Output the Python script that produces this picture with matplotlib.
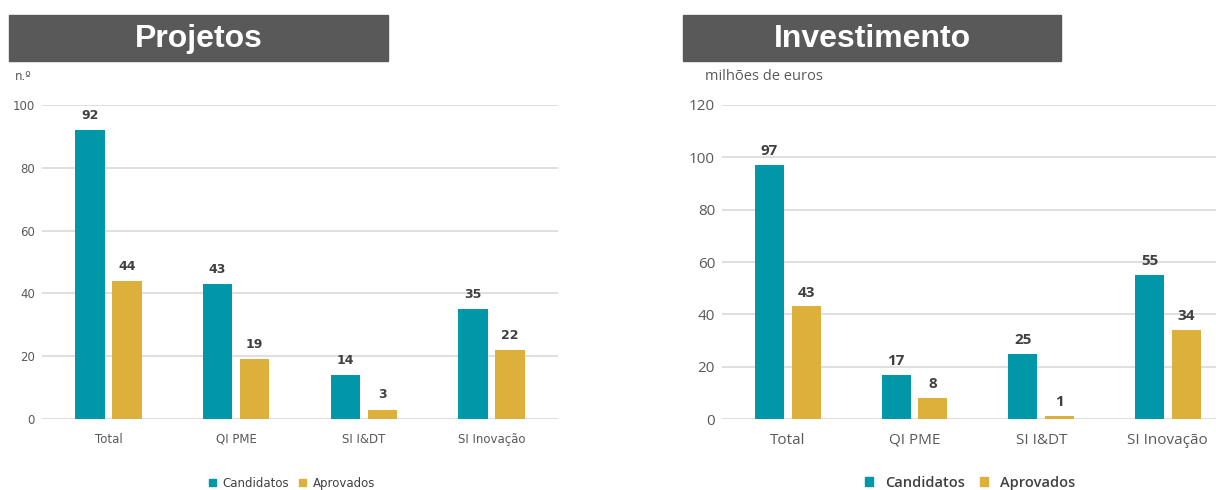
import numpy as np
import matplotlib.pyplot as plt
from matplotlib.patches import Rectangle, Patch

categories = ["Total", "QI PME", "SI I&DT", "SI Inovação"]
proj_candidatos = [92, 43, 14, 35]
proj_aprovados = [44, 19, 3, 22]
inv_candidatos = [97, 17, 25, 55]
inv_aprovados = [43, 8, 1, 34]

teal = "#0097A8"
gold = "#DDAF3B"
grid_c = "#D9D9D9"
txt_c = "#595959"

W, H = 1216, 490
fig = plt.figure(figsize=(W / 100, H / 100), dpi=100)


def px(x0, y0, w, h):
    return [x0 / W, 1 - (y0 + h) / H, w / W, h / H]


def panel(ax, cand, apr, ymax, step, xmax, font, fs_tick, fs_val, off, xpad):
    x = np.arange(len(categories))
    bw = 0.23
    b1 = ax.bar(x - 0.145, cand, bw, color=teal, zorder=3)
    b2 = ax.bar(x + 0.145, apr, bw, color=gold, zorder=3)
    for bars in (b1, b2):
        for r in bars:
            ax.annotate(f"{r.get_height():g}", (r.get_x() + r.get_width() / 2, r.get_height()),
                        xytext=(0, off), textcoords="offset points", ha="center", va="bottom",
                        fontsize=fs_val, fontweight="bold", color="#404040", family=font)
    ax.set_ylim(0, ymax)
    ax.set_xlim(-0.52, xmax)
    ax.set_yticks(np.arange(0, ymax + 1, step))
    ax.set_xticks(x)
    ax.set_xticklabels(categories)
    ax.yaxis.grid(True, color=grid_c, linewidth=1.2, zorder=0)
    for s in ax.spines.values():
        s.set_visible(False)
    ax.tick_params(length=0, colors=txt_c, labelsize=fs_tick)
    ax.tick_params(axis="x", pad=xpad)
    ax.tick_params(axis="y", pad=5)
    for lbl in ax.get_xticklabels() + ax.get_yticklabels():
        lbl.set_family(font)


narrow = ["Liberation Sans Narrow", "DejaVu Sans"]
normal = ["Open Sans", "DejaVu Sans"]

ax1 = fig.add_axes(px(42, 105, 516, 314))
panel(ax1, proj_candidatos, proj_aprovados, 100, 20, 3.52, narrow, 8.5, 9, 6, 10)

ax2 = fig.add_axes(px(722, 105, 494, 314))
panel(ax2, inv_candidatos, inv_aprovados, 120, 20, 3.38, normal, 11, 11, 5, 10)

# title boxes
for x0, x1, t in [(9, 388, "Projetos"), (683, 1061, "Investimento")]:
    fig.add_artist(Rectangle((x0 / W, 1 - 61 / H), (x1 - x0) / W, 46 / H,
                             transform=fig.transFigure, color="#595959", zorder=0))
    fig.text((x0 + x1) / 2 / W, 1 - 39 / H, t, ha="center", va="center",
             color="white", fontsize=23, fontweight="bold", family="Liberation Sans")

fig.text(15 / W, 1 - 77 / H, "n.º", ha="left", va="center", fontsize=8.5, color=txt_c, family=narrow)
fig.text(705 / W, 1 - 77 / H, "milhões de euros", ha="left", va="center", fontsize=10.5,
         color=txt_c, family=normal)

handles = [Patch(color=teal, label="Candidatos"), Patch(color=gold, label="Aprovados")]
fig.legend(handles=handles, loc="center", bbox_to_anchor=(292 / W, 1 - 483 / H), ncol=2,
           frameon=False, handlelength=0.6, handleheight=0.6, handletextpad=0.6,
           columnspacing=0.8, prop={"family": narrow, "size": 8.5}, labelcolor="#404040")
fig.legend(handles=handles, loc="center", bbox_to_anchor=(970 / W, 1 - 483 / H), ncol=2,
           frameon=False, handlelength=0.6, handleheight=0.6, handletextpad=0.8,
           columnspacing=1.0, prop={"family": normal, "size": 10.5, "weight": "semibold"},
           labelcolor="#404040")

fig.savefig("out.png", dpi=100)
